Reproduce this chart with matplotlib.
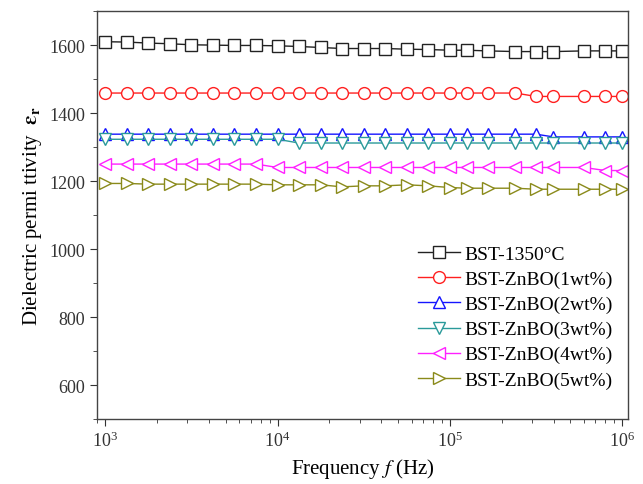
# dielectric permittivity vs frequency for BST / BST-ZnBO samples

import numpy as np
import matplotlib
matplotlib.use("Agg")
import matplotlib.pyplot as plt
from matplotlib.ticker import MultipleLocator, LogLocator, NullFormatter

freq = [1000, 1330, 1780, 2370, 3160, 4220, 5620, 7500, 10000, 13300, 17800,
        23700, 31600, 42200, 56200, 75000, 100000, 126000, 166000, 240000,
        316000, 398000, 600000, 800000, 1000000]

bst_1350 = [1610, 1609, 1606, 1604, 1601, 1600, 1599, 1599, 1598, 1596, 1593,
            1590, 1590, 1590, 1588, 1587, 1585, 1585, 1583, 1581, 1581, 1581,
            1583, 1583, 1583]
znbo_1 = [1459] * 20 + [1449] * 5
znbo_2 = [1338] * 21 + [1330] * 4
znbo_3 = [1323] * 9 + [1312] * 16
znbo_4 = [1250] * 8 + [1240] * 15 + [1231] * 2
znbo_5 = [1193, 1193, 1191, 1191, 1191, 1191, 1191, 1191, 1189, 1189, 1189,
          1183, 1186, 1186, 1189, 1186, 1181, 1179, 1179, 1179, 1176, 1176,
          1176, 1176, 1176]

labels = ["BST-1350\u00b0C", "BST-ZnBO(1wt%)", "BST-ZnBO(2wt%)",
          "BST-ZnBO(3wt%)", "BST-ZnBO(4wt%)", "BST-ZnBO(5wt%)"]
series = [bst_1350, znbo_1, znbo_2, znbo_3, znbo_4, znbo_5]
colors = ["#222222", "#ff2020", "#1515ff", "#2a9a9a", "#ff20ff", "#8a8a1a"]
markers = ["s", "o", "^", "v", "<", ">"]

plt.rcParams["font.family"] = "Liberation Serif"
plt.rcParams["mathtext.fontset"] = "stix"

fig = plt.figure(figsize=(6.43, 4.85), dpi=100)
ax = fig.add_axes([0.151, 0.134, 0.826, 0.841])

for vals, lab, c, m in zip(series, labels, colors, markers):
    ax.plot(freq, vals, marker=m, color=c, label=lab, lw=1.0,
            markersize=8.5, markerfacecolor="white", markeredgecolor=c,
            markeredgewidth=1.0)

ax.set_xscale("log")
ax.set_xlim(10 ** 2.953, 10 ** 6.035)
ax.set_ylim(500, 1700)
ax.xaxis.set_major_locator(LogLocator(base=10, numticks=10))
ax.xaxis.set_minor_locator(LogLocator(base=10, subs=np.arange(2, 10), numticks=20))
ax.xaxis.set_minor_formatter(NullFormatter())
ax.set_yticks([600, 800, 1000, 1200, 1400, 1600])
ax.yaxis.set_minor_locator(MultipleLocator(100))

ax.tick_params(which="both", direction="out", top=False, right=False,
               labelsize=13, colors="#333333")
ax.tick_params(which="major", length=5)
ax.tick_params(which="minor", length=3)
for s in ax.spines.values():
    s.set_color("#444444")
    s.set_linewidth(1.0)

ax.set_xlabel("Frequency $f$ (Hz)", fontsize=15)
ax.set_ylabel(r"Dielectric permi ttivity  $\mathbf{\varepsilon_r}$", fontsize=15)

ax.legend(loc="center right", bbox_to_anchor=(1.0, 0.25), frameon=False,
          fontsize=14, handlelength=2.2, handletextpad=0.2, labelspacing=0.38,
          borderaxespad=0.4)

fig.savefig("out.png", dpi=100)
